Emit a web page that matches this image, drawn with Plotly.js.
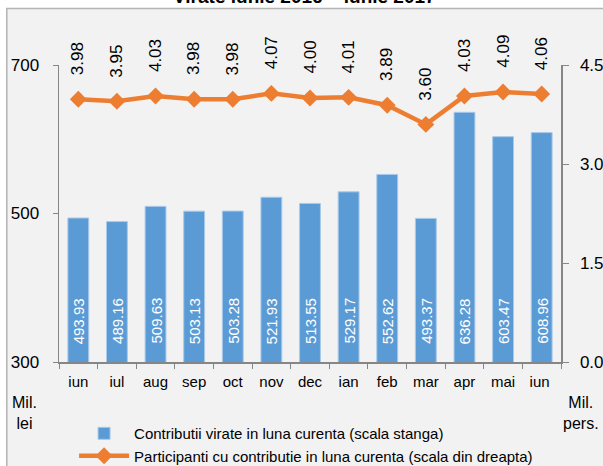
<!DOCTYPE html>
<html>
<head>
<meta charset="utf-8">
<script src="https://cdn.plot.ly/plotly-3.0.1.min.js"></script>
<style>html,body{margin:0;padding:0;background:#fff;}#chart{width:603px;height:466px;}</style>
</head>
<body>
<div id="chart"></div>
<script>
const months = ["iun","iul","aug","sep","oct","nov","dec","ian","feb","mar","apr","mai","iun "];
const contributii = [493.93,489.16,509.63,503.13,503.28,521.93,513.55,529.17,552.62,493.37,636.28,603.47,608.96];
const participanti = [3.98,3.95,4.03,3.98,3.98,4.07,4.00,4.01,3.89,3.60,4.03,4.09,4.06];
const titleText = "Virate iunie 2016 – iunie 2017";
const barName = "Contributii virate in luna curenta (scala stanga)";
const lineName = "Participanti cu contributie in luna curenta (scala din dreapta)";

const FONT = '"Liberation Sans", Arial, sans-serif';
const barColor = '#5b9bd5';
const lineColor = '#ed7d31';
const axisColor = '#868686';

const traces = [
  {
    type: 'bar', x: months, y: contributii, name: barName,
    marker: {color: barColor, line: {color: '#a8c9ea', width: 1}},
    hoverinfo: 'none'
  },
  {
    type: 'scatter', mode: 'lines+markers', x: months, y: participanti, name: lineName,
    yaxis: 'y2',
    line: {color: lineColor, width: 4.5},
    marker: {symbol: 'diamond', size: 13, color: lineColor},
    hoverinfo: 'none'
  }
];

const annotations = [];
months.forEach((m, i) => {
  annotations.push({
    x: m, y: 300, xref: 'x', yref: 'y', showarrow: false,
    text: contributii[i].toFixed(2), textangle: -90,
    yanchor: 'bottom', yshift: 16,
    font: {family: FONT, size: 15, color: '#ffffff'}
  });
  annotations.push({
    x: m, y: participanti[i], xref: 'x', yref: 'y2', showarrow: false,
    text: participanti[i].toFixed(2), textangle: -90,
    yanchor: 'bottom', yshift: 22,
    font: {family: FONT, size: 17, color: '#000000'}
  });
});
annotations.push({xref: 'paper', yref: 'paper', x: -0.068, y: -0.1, showarrow: false,
  text: 'Mil.<br>lei', align: 'center', xanchor: 'center', yanchor: 'top',
  font: {family: FONT, size: 16, color: '#000'}});
annotations.push({xref: 'paper', yref: 'paper', x: 1.04, y: -0.1, showarrow: false,
  text: 'Mil.<br>pers.', align: 'center', xanchor: 'center', yanchor: 'top',
  font: {family: FONT, size: 16, color: '#000'}});
// chart title, mostly cropped off at the top edge as in the reference
annotations.push({xref: 'paper', yref: 'paper', x: 0.49, y: 1.188, showarrow: false,
  text: '<b>' + titleText + '</b>', xanchor: 'center', yanchor: 'bottom',
  font: {family: FONT, size: 19, color: '#000'}});

const layout = {
  width: 603, height: 466,
  margin: {l: 59, r: 42, t: 65, b: 104, autoexpand: false},
  paper_bgcolor: '#ffffff',
  plot_bgcolor: 'rgba(0,0,0,0)',
  font: {family: FONT, color: '#000'},
  showlegend: true,
  legend: {orientation: 'v', x: 0.03, xref: 'paper', xanchor: 'left', y: 0.105, yref: 'container', yanchor: 'top',
           bgcolor: 'rgba(0,0,0,0)', font: {family: FONT, size: 15, color: '#000'},
           itemwidth: 50, tracegroupgap: 0, traceorder: 'normal'},
  bargap: 0.46,
  xaxis: {
    type: 'category', range: [-0.5, months.length - 0.5], autorange: false,
    showline: true, linecolor: axisColor, linewidth: 1.5,
    ticks: 'outside', tickson: 'boundaries', ticklen: 5, tickcolor: axisColor, tickangle: 0,
    tickfont: {family: FONT, size: 15, color: '#000'}, showgrid: false, zeroline: false,
    ticklabelstandoff: 5, automargin: false
  },
  yaxis: {
    range: [300, 700], tickvals: [300, 500, 700], showline: true, linecolor: axisColor, linewidth: 1.5,
    ticks: 'outside', ticklen: 5, tickcolor: axisColor, showgrid: false, zeroline: false,
    tickfont: {family: FONT, size: 17, color: '#000'}, ticklabelstandoff: 10, automargin: false
  },
  yaxis2: {
    range: [0, 4.5], tickvals: [0, 1.5, 3.0, 4.5], tickformat: '.1f', overlaying: 'y', side: 'right',
    showline: true, linecolor: axisColor, linewidth: 1.5,
    ticks: 'outside', ticklen: 6, tickcolor: axisColor, showgrid: false, zeroline: false,
    tickfont: {family: FONT, size: 17, color: '#000'}, ticklabelstandoff: 8, automargin: false
  },
  shapes: [{
    type: 'rect', xref: 'paper', yref: 'paper', layer: 'below',
    x0: -0.104, x1: 1.2, y0: -0.5, y1: 1.19,
    fillcolor: '#f2f2f2', line: {color: '#b4b4b4', width: 1.5}
  }],
  annotations: annotations
};

Plotly.newPlot('chart', traces, layout, {displayModeBar: false, staticPlot: true});
</script>
</body>
</html>
